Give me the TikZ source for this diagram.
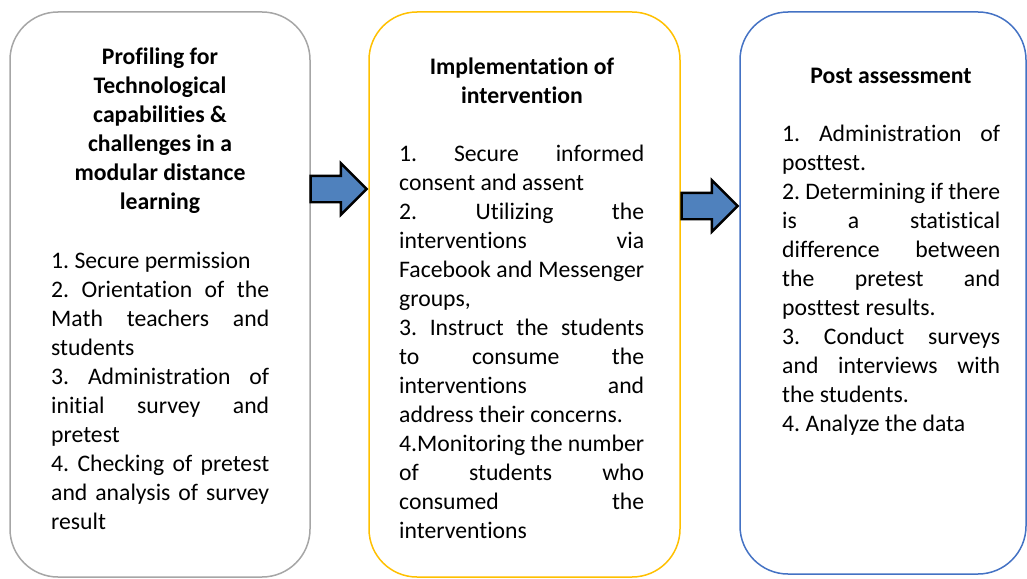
\documentclass[tikz,border=0pt]{standalone}
\usepackage{fontspec}
\setmainfont{Carlito}[Ligatures=NoCommon]
\usetikzlibrary{shapes.arrows}

\definecolor{boxgray}{HTML}{A6A6A6}
\definecolor{boxgold}{HTML}{FFC000}
\definecolor{boxblue}{HTML}{4472C4}
\definecolor{arrowblue}{HTML}{4F81BD}

% one justified line of a list item
\newcommand\jline[1]{\makebox[\hsize][s]{#1}\\}

\begin{document}
\frenchspacing
\begin{tikzpicture}[
	x=1pt, y=-1pt,
	natsp/.style = {execute at begin node={\spaceskip=0pt\xspaceskip=0pt\relax}},
	stage/.style = {rectangle, rounded corners=48pt, line width=1.5pt, fill=white},
	ttl/.style   = {natsp, anchor=base, align=center, inner sep=0pt, font=\fontsize{23.7}{29}\selectfont\bfseries},
	body/.style  = {natsp, anchor=base west, align=left, inner sep=0pt, font=\fontsize{23.7}{29}\selectfont},
	arr/.style   = {single arrow, draw=black, line width=2.4pt, fill=arrowblue, inner xsep=0pt, inner ysep=12pt,
	                minimum height=56pt, single arrow head extend=12.5pt}
	]
	\useasboundingbox (0,0) rectangle (1027,578);
	
	% === === === Stages === === ===
	\node[stage, draw=boxgray, minimum width=300pt, minimum height=565pt]	(prof)	at	(160, 294.5)	{};
	\node[stage, draw=boxgold, minimum width=311pt, minimum height=565pt]	(impl)	at	(524.5, 294.5)	{};
	\node[stage, draw=boxblue, minimum width=286pt, minimum height=562pt]	(post)	at	(883, 293)	{};
	
	% === === === Titles (anchored on their last line) === === ===
	\node[ttl]	(prof-t)	at	(160, 209)	{Profiling for\\Technological\\capabilities \&\\challenges in a\\modular distance\\learning};
	\node[ttl]	(impl-t)	at	(522, 103)	{Implementation of\\intervention};
	\node[ttl]	(post-t)	at	(891, 83)	{Post assessment};
	
	% === === === Steps === === ===
	\node[body, text width=218pt]	(prof-b)	at	(51, 268)	{%
		1. Secure permission\\
		\jline{2. Orientation of the}
		\jline{Math teachers and}
		students\\
		\jline{3. Administration of}
		\jline{initial survey and}
		pretest\\
		\jline{4. Checking of pretest}
		\jline{and analysis of survey}
		result};
	\node[body, text width=245pt]	(impl-b)	at	(399, 161)	{%
		\jline{1. Secure informed}
		consent and assent\\
		\jline{2. Utilizing the}
		\jline{interventions via}
		\jline{Facebook and Messenger}
		groups,\\
		\jline{3. Instruct the students}
		\jline{to consume the}
		\jline{interventions and}
		address their concerns.\\
		\jline{4.Monitoring the number}
		\jline{of students who}
		\jline{consumed the}
		interventions};
	\node[body, text width=218pt]	(post-b)	at	(782, 141)	{%
		\jline{1. Administration of}
		posttest.\\
		\jline{2. Determining if there}
		\jline{is a statistical}
		\jline{difference between}
		\jline{the pretest and}
		posttest results.\\
		\jline{3. Conduct surveys}
		\jline{and interviews with}
		the students.\\
		4. Analyze the data};
	
	% === === === Arrows === === ===
	\node[arr, anchor=tip]	(a1)	at	(impl.west |- 0, 189)	{};
	\node[arr, anchor=tip]	(a2)	at	(post.west |- 0, 206)	{};
	
\end{tikzpicture}
\end{document}
